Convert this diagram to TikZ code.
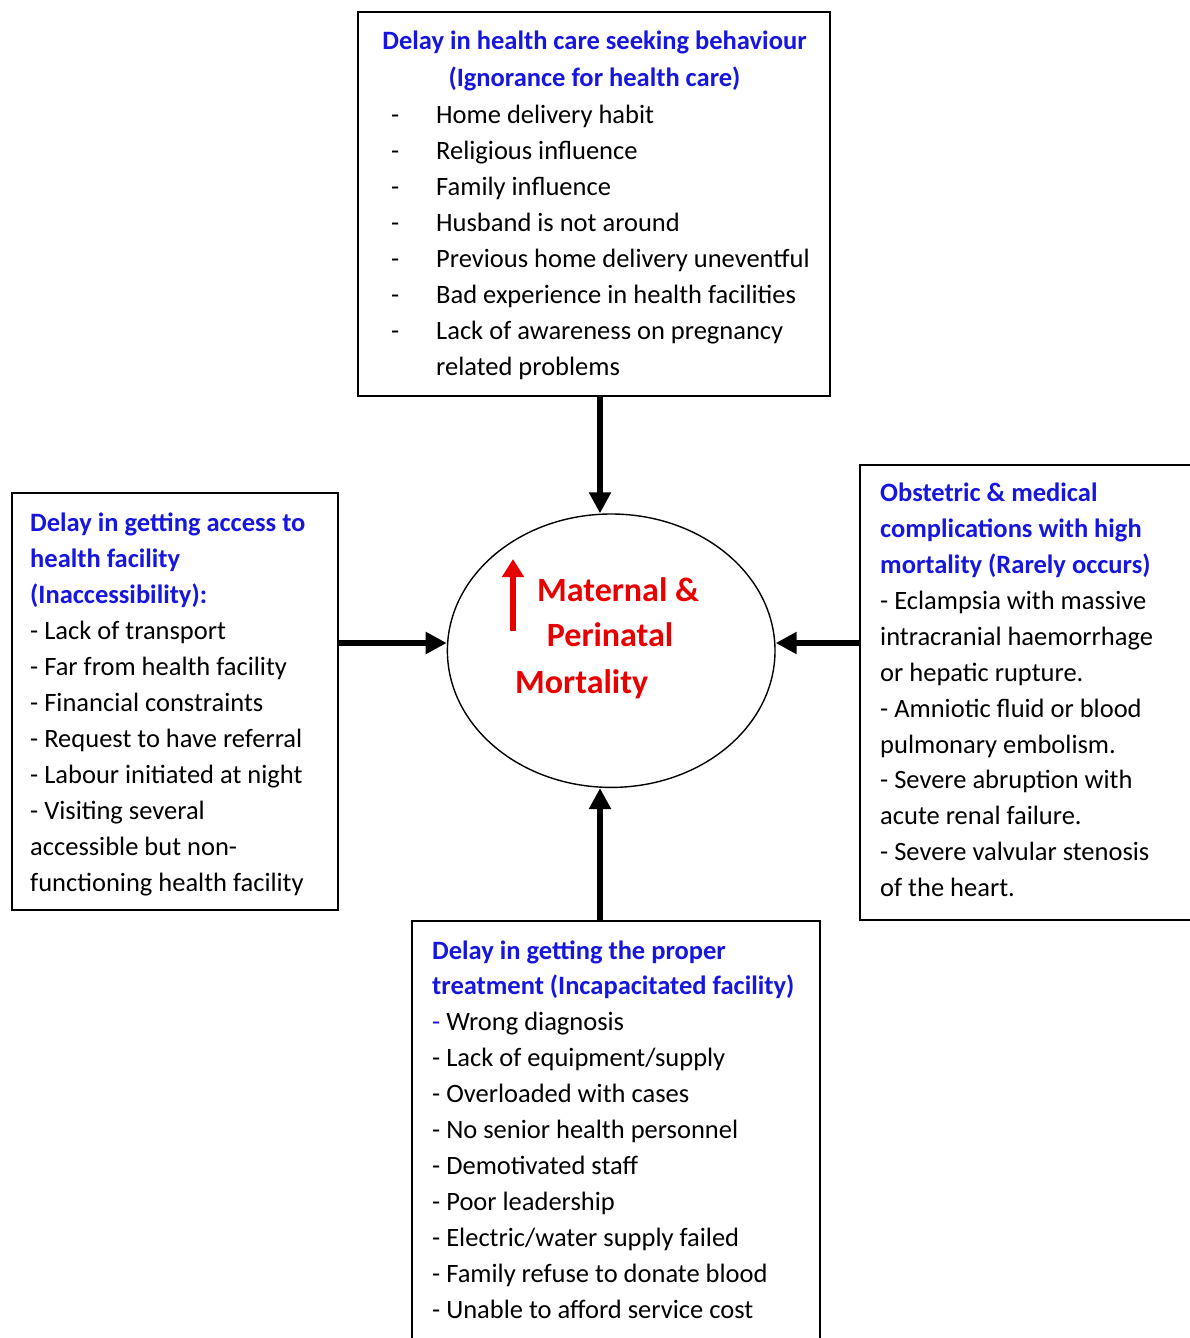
\documentclass[tikz,border=0pt]{standalone}
\usepackage{fontspec}
\setmainfont{Carlito}
\usetikzlibrary{arrows.meta,shapes.geometric}
\definecolor{hb}{RGB}{22,22,222}
\definecolor{mred}{RGB}{232,0,0}
\begin{document}
\begin{tikzpicture}[x=1pt,y=-1pt,
  box/.style={draw, line width=2pt, rectangle, inner sep=0pt},
  txt/.style={inner sep=0pt, anchor=base west, font=\fontsize{26.5}{36}\selectfont},
  hd/.style={txt, font=\fontsize{26.5}{36}\selectfont\bfseries, text=hb},
  ctr/.style={inner sep=0pt, anchor=base west, font=\fontsize{34}{44}\selectfont\bfseries, text=mred},
  conn/.style={line width=6pt, -{Triangle[length=21pt,width=21pt]}},
]
\useasboundingbox (0,0) rectangle (1190,1338);
\fill[white] (0,0) rectangle (1190,1338);

% boxes
\node[box, minimum width=472pt, minimum height=384pt] (top) at (594,204) {};
\node[box, minimum width=326pt, minimum height=417pt] (left) at (175,701.5) {};
\node[box, minimum width=332pt, minimum height=455pt] (right) at (1026,692.5) {};
\node[box, minimum width=408pt, minimum height=424pt] (bot) at (616,1133) {};

% central ellipse
\node[draw, ellipse, line width=1.4pt, minimum width=327.6pt, minimum height=273.4pt, inner sep=0pt] (ell) at (611.2,650.7) {};

% helper coordinates for connector lines
\coordinate (ax) at (600,0);
\coordinate (ay) at (0,643);

% connectors
\draw[conn] (top.south -| ax) -- (ell.north -| ax);
\draw[conn] (bot.north -| ax) -- (ell.south -| ax);
\draw[conn] (left.east |- ay) -- (ell.west |- ay);
\draw[conn] (right.west |- ay) -- (ell.east |- ay);

% centre text
\coordinate (ra) at (513,631);
\coordinate (rb) at (513,559);
\draw[mred, line width=6.5pt, -{Triangle[length=18pt,width=21pt]}] (ra) -- (rb);
\node[ctr] (c1) at (537,601.7) {Maternal \&};
\node[ctr] (c2) at (546.7,646.7) {Perinatal};
\node[ctr] (c3) at (515,693) {Mortality};

% top box text
\node[hd, anchor=base] (t1) at (594.5,50) {Delay in health care seeking behaviour};
\node[hd, anchor=base] (t2) at (594.5,86) {(Ignorance for health care)};
\foreach \t [count=\i from 0] in {Home delivery habit, Religious influence, Family influence, Husband is not around, Previous home delivery uneventful, Bad experience in health facilities, Lack of awareness on pregnancy}
  {\node[txt] (td\i) at (391,123+36.1*\i) {-};
   \node[txt] (ti\i) at (436,123+36.1*\i) {\t};}
\node[txt] (ti7) at (436,123+36.1*7) {related problems};

% left box text
\foreach \t [count=\i from 0] in {Delay in getting access to, health facility, (Inaccessibility):}
  {\node[hd] (lh\i) at (30,531.7+36*\i) {\t};}
\foreach \t [count=\i from 3] in {- Lack of transport, - Far from health facility, - Financial constraints, - Request to have referral, - Labour initiated at night, - Visiting several, accessible but non-, functioning health facility}
  {\node[txt] (li\i) at (30,531.7+36*\i) {\t};}

% right box text
\foreach \t [count=\i from 0] in {Obstetric \& medical, complications with high, mortality (Rarely occurs)}
  {\node[hd] (rh\i) at (880,501.7+35.9*\i) {\t};}
\foreach \t [count=\i from 3] in {- Eclampsia with massive, intracranial haemorrhage, or hepatic rupture., - Amniotic fluid or blood, pulmonary embolism., - Severe abruption with, acute renal failure., - Severe valvular stenosis, of the heart.}
  {\node[txt] (ri\i) at (880,501.7+35.9*\i) {\t};}

% bottom box text
\foreach \t [count=\i from 0] in {Delay in getting the proper, treatment (Incapacitated facility)}
  {\node[hd] (bh\i) at (432,959+35.9*\i) {\t};}
\node[txt] (bi2) at (432,959+35.9*2) {{\color{hb}-} Wrong diagnosis};
\foreach \t [count=\i from 3] in {- Lack of equipment/supply, - Overloaded with cases, - No senior health personnel, - Demotivated staff, - Poor leadership, - Electric/water supply failed, - Family refuse to donate blood, - Unable to afford service cost}
  {\node[txt] (bi\i) at (432,959+35.9*\i) {\t};}
\end{tikzpicture}
\end{document}
